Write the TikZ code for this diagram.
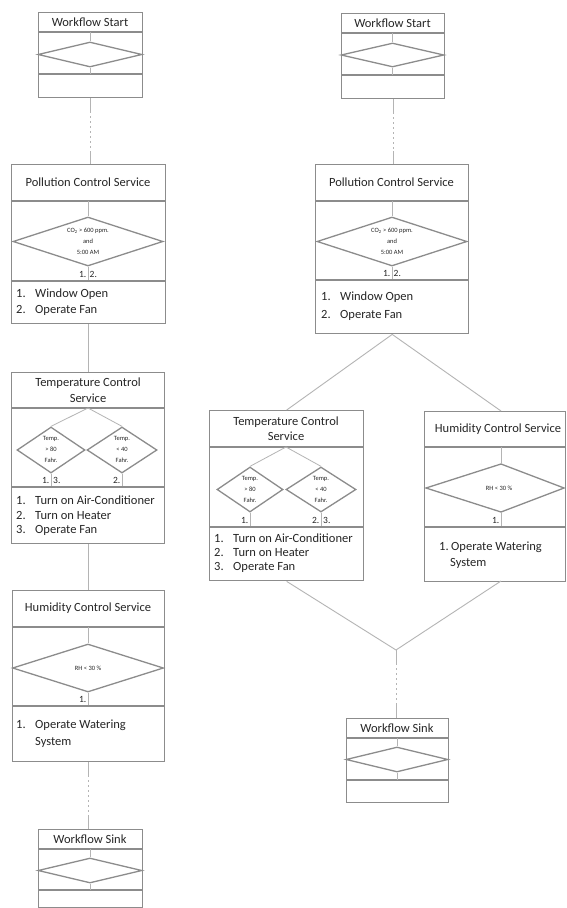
\documentclass[tikz,border=0pt]{standalone}
\usepackage{fontspec}
\setmainfont{Carlito}
\usetikzlibrary{calc,shapes.geometric}
\definecolor{boxc}{HTML}{8C8C8C}
\definecolor{linec}{HTML}{B4B4B4}
\definecolor{txtc}{HTML}{262626}
\tikzset{
  frame/.style={draw=boxc, line width=1.4pt, inner sep=0pt, anchor=north west},
  sep/.style={draw=boxc, line width=1.4pt},
  dia/.style={draw=boxc, line width=1.3pt, diamond, inner sep=0pt},
  diap/.style={draw=boxc, line width=1.3pt},
  tick/.style={draw=linec, line width=0.8pt},
  conn/.style={draw=linec, line width=0.9pt},
  dots/.style={draw=linec, line width=0.9pt, dash pattern=on 1.5pt off 3.5pt},
  ttl/.style={text=txtc, font=\fontsize{12.5}{15.5}\selectfont, align=center, inner sep=0pt},
  act/.style={text=txtc, font=\fontsize{12.5}{15}\selectfont, anchor=west, inner sep=0pt},
  num/.style={text=txtc, font=\fontsize{9.5}{11}\selectfont, inner sep=0pt},
  tiny/.style={text=txtc, font=\fontsize{6.5}{11}\selectfont, align=center, inner sep=0pt},
}
\begin{document}
\begin{tikzpicture}[x=1pt,y=-1pt]
\fill[white] (0,0) rectangle (566,908);
\useasboundingbox (0,0) rectangle (566,908);

% ================= LEFT COLUMN =================
% Workflow Start
\node[frame, minimum width=104pt, minimum height=85pt] (lstart) at (38,12) {};
\node[ttl] (lstartT) at (90,22) {Workflow Start};
\draw[sep] (38,32) -- (142,32);
\node[dia, minimum width=104pt, minimum height=25pt] (lstartD) at (90,54.5) {};
\draw[sep] (38,74) -- (142,74);
\draw[tick] (90,32) -- (lstartD.north);
\draw[tick] (lstartD.south) -- (90,74);

% Pollution Control
\node[frame, minimum width=154pt, minimum height=159pt] (lpoll) at (11,164) {};
\node[ttl] (lpollT) at (88,182.5) {Pollution Control Service};
\draw[sep] (11,201) -- (165,201);
\node[dia, minimum width=150pt, minimum height=49pt] (lpollD) at (88,241.5) {};
\node[tiny] (lpollC) at (88,241.5) {CO\textsubscript{2} > 600 ppm.\\and\\5:00 AM};
\draw[tick] (88,201) -- (lpollD.north);
\draw[tick] (lpollD.south) -- (88,281);
\draw[sep] (11,281) -- (165,281);
\node[num, anchor=east] (lpollN1) at (86.5,274) {1.};
\node[num, anchor=west] (lpollN2) at (89.5,274) {2.};
\node[act] (lpollA1) at (16,294) {\makebox[19pt][l]{1.}Window Open};
\node[act] (lpollA2) at (16,310) {\makebox[19pt][l]{2.}Operate Fan};

% Temperature Control
\node[frame, minimum width=153pt, minimum height=171pt] (ltemp) at (11,372) {};
\node[ttl] (ltempT) at (88,390) {Temperature Control\\Service};
\draw[sep] (11,408) -- (164,408);
\node[dia, minimum width=68pt, minimum height=46pt] (ltempD1) at (51,450) {};
\node[dia, minimum width=70pt, minimum height=46pt] (ltempD2) at (122,450) {};
\node[tiny] (ltempC1) at (51,449.5) {Temp.\\> 80\\Fahr.};
\node[tiny] (ltempC2) at (122,449.5) {Temp.\\< 40\\Fahr.};
\draw[tick] (88,408) -- (ltempD1.north);
\draw[tick] (88,408) -- (ltempD2.north);
\draw[tick] (ltempD1.south) -- (51,487);
\draw[tick] (ltempD2.south) -- (122,487);
\draw[sep] (11,487) -- (164,487);
\node[num, anchor=east] (ltempN1) at (49.5,480) {1.};
\node[num, anchor=west] (ltempN3) at (53,480) {3.};
\node[num, anchor=east] (ltempN2) at (120.5,480) {2.};
\node[act] (ltempA1) at (16,500) {\makebox[19pt][l]{1.}Turn on Air-Conditioner};
\node[act] (ltempA2) at (16,515) {\makebox[19pt][l]{2.}Turn on Heater};
\node[act] (ltempA3) at (16,530) {\makebox[19pt][l]{3.}Operate Fan};

% Humidity Control
\node[frame, minimum width=152pt, minimum height=171pt] (lhum) at (12,590) {};
\node[ttl] (lhumT) at (88,608.5) {Humidity Control Service};
\draw[sep] (12,627) -- (164,627);
\node[dia, minimum width=151pt, minimum height=48pt] (lhumD) at (88,668) {};
\node[tiny] (lhumC) at (88,668) {RH < 30 \%};
\draw[tick] (88,627) -- (lhumD.north);
\draw[tick] (lhumD.south) -- (88,706);
\draw[sep] (12,706) -- (164,706);
\node[num, anchor=east] (lhumN1) at (86.5,699) {1.};
\node[act] (lhumA1) at (16,725) {\makebox[19pt][l]{1.}Operate Watering};
\node[act] (lhumA2) at (35,742) {System};

% Workflow Sink
\node[frame, minimum width=104pt, minimum height=78pt] (lsink) at (38,829) {};
\node[ttl] (lsinkT) at (90,839) {Workflow Sink};
\draw[sep] (38,849) -- (142,849);
\node[dia, minimum width=104pt, minimum height=25pt] (lsinkD) at (90,870.5) {};
\draw[sep] (38,890) -- (142,890);
\draw[tick] (90,849) -- (lsinkD.north);
\draw[tick] (lsinkD.south) -- (90,890);

% left connectors
\coordinate (lc1) at (lstart.south |- lpoll.north);
\draw[conn] (lstart.south) -- ++(0,13);
\draw[dots] ($(lstart.south)+(0,13)$) -- ($(lc1)+(0,-13)$);
\draw[conn] ($(lc1)+(0,-13)$) -- (lc1);
\draw[conn] (lpoll.south) -- (lpoll.south |- ltemp.north);
\draw[conn] (ltemp.south) -- (ltemp.south |- lhum.north);
\coordinate (lc2) at (lhum.south |- lsink.north);
\draw[conn] (lhum.south) -- ++(0,13);
\draw[dots] ($(lhum.south)+(0,13)$) -- ($(lc2)+(0,-13)$);
\draw[conn] ($(lc2)+(0,-13)$) -- (lc2);

% ================= RIGHT COLUMN =================
% Workflow Start
\node[frame, minimum width=103pt, minimum height=85pt] (rstart) at (341,13) {};
\node[ttl] (rstartT) at (392.5,23) {Workflow Start};
\draw[sep] (341,33) -- (444,33);
\node[dia, minimum width=103pt, minimum height=24pt] (rstartD) at (392.5,55) {};
\draw[sep] (341,75) -- (444,75);
\draw[tick] (392.5,33) -- (rstartD.north);
\draw[tick] (rstartD.south) -- (392.5,75);

% Pollution Control
\node[frame, minimum width=153pt, minimum height=169pt] (rpoll) at (315,164) {};
\node[ttl] (rpollT) at (391.5,182.5) {Pollution Control Service};
\draw[sep] (315,201) -- (468,201);
\node[dia, minimum width=150pt, minimum height=49pt] (rpollD) at (392,241.5) {};
\node[tiny] (rpollC) at (392,241.5) {CO\textsubscript{2} > 600 ppm.\\and\\5:00 AM};
\draw[tick] (392,201) -- (rpollD.north);
\draw[tick] (rpollD.south) -- (392,280);
\draw[sep] (315,280) -- (468,280);
\node[num, anchor=east] (rpollN1) at (390.5,273) {1.};
\node[num, anchor=west] (rpollN2) at (393.5,273) {2.};
\node[act] (rpollA1) at (321,297) {\makebox[19pt][l]{1.}Window Open};
\node[act] (rpollA2) at (321,315) {\makebox[19pt][l]{2.}Operate Fan};

% Temperature Control
\node[frame, minimum width=154pt, minimum height=170pt] (rtemp) at (209,410) {};
\node[ttl] (rtempT) at (286,428.5) {Temperature Control\\Service};
\draw[sep] (209,447) -- (363,447);
\node[dia, minimum width=66pt, minimum height=45pt] (rtempD1) at (250,489.5) {};
\node[dia, minimum width=70pt, minimum height=45pt] (rtempD2) at (321,489.5) {};
\node[tiny] (rtempC1) at (250,489) {Temp.\\> 80\\Fahr.};
\node[tiny] (rtempC2) at (321,489) {Temp.\\< 40\\Fahr.};
\draw[tick] (286,447) -- (rtempD1.north);
\draw[tick] (286,447) -- (rtempD2.north);
\draw[tick] (rtempD1.south) -- (250,527);
\draw[tick] (rtempD2.south) -- (321,527);
\draw[sep] (209,527) -- (363,527);
\node[num, anchor=east] (rtempN1) at (248.5,520) {1.};
\node[num, anchor=east] (rtempN2) at (319.5,520) {2.};
\node[num, anchor=west] (rtempN3) at (323,520) {3.};
\node[act] (rtempA1) at (214,538) {\makebox[19pt][l]{1.}Turn on Air-Conditioner};
\node[act] (rtempA2) at (214,552.5) {\makebox[19pt][l]{2.}Turn on Heater};
\node[act] (rtempA3) at (214,567) {\makebox[19pt][l]{3.}Operate Fan};

% Humidity Control
\node[frame, minimum width=141pt, minimum height=170pt] (rhum) at (424,411) {};
\node[ttl] (rhumT) at (498,429.5) {Humidity Control Service};
\draw[sep] (424,447) -- (565,447);
\coordinate (rhumL) at (426,488);
\coordinate (rhumU) at (501,464);
\coordinate (rhumR) at (564,488);
\coordinate (rhumB) at (501,512);
\draw[diap] (rhumL) -- (rhumU) -- (rhumR) -- (rhumB) -- cycle;
\node[tiny] (rhumC) at (499,488) {RH < 30 \%};
\draw[tick] (501,447) -- (rhumU);
\draw[tick] (rhumB) -- (501,527);
\draw[sep] (424,527) -- (565,527);
\node[num, anchor=east] (rhumN1) at (499.5,520) {1.};
\node[act] (rhumA1) at (439,547) {\makebox[12pt][l]{1.}Operate Watering};
\node[act] (rhumA2) at (450,563) {System};

% Workflow Sink
\node[frame, minimum width=102pt, minimum height=84pt] (rsink) at (346,718) {};
\node[ttl] (rsinkT) at (397,728) {Workflow Sink};
\draw[sep] (346,738) -- (448,738);
\node[dia, minimum width=102pt, minimum height=25pt] (rsinkD) at (397,759.5) {};
\draw[sep] (346,780) -- (448,780);
\draw[tick] (397,738) -- (rsinkD.north);
\draw[tick] (rsinkD.south) -- (397,780);

% right connectors
\coordinate (rc1) at (rstart.south |- rpoll.north);
\draw[conn] (rstart.south) -- ++(0,13);
\draw[dots] ($(rstart.south)+(0,13)$) -- ($(rc1)+(0,-13)$);
\draw[conn] ($(rc1)+(0,-13)$) -- (rc1);
\coordinate (rhumtop) at (501,411);
\coordinate (rhumbot) at (501,581);
\draw[conn] (rpoll.south) -- (rtemp.north);
\draw[conn] (rpoll.south) -- (rhumtop);
\coordinate (join) at (396,650);
\draw[conn] (rtemp.south) -- (join);
\draw[conn] (rhumbot) -- (join);
\coordinate (rc2) at (join |- rsink.north);
\draw[conn] (join) -- ++(0,13);
\draw[dots] ($(join)+(0,13)$) -- ($(rc2)+(0,-13)$);
\draw[conn] ($(rc2)+(0,-13)$) -- (rc2);
\end{tikzpicture}
\end{document}
